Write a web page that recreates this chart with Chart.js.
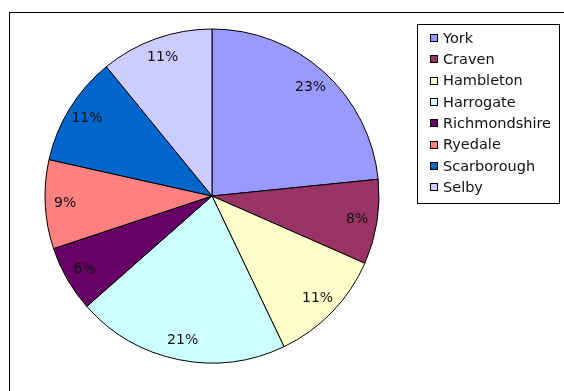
<!DOCTYPE html>
<html>
<head>
<meta charset="utf-8">
<script src="https://cdn.jsdelivr.net/npm/chart.js@4"></script>
<style>
    html, body { margin: 0; padding: 0; background: #fff; }
    #wrap { width: 564px; height: 391px; }
</style>
</head>
<body>
<div id="wrap"><canvas id="pieChart" width="564" height="391"></canvas></div>
<script>
// Share of total by district
const districts = ['York', 'Craven', 'Hambleton', 'Harrogate', 'Richmondshire', 'Ryedale', 'Scarborough', 'Selby'];
const shares = [23.4, 8.2, 11.3, 20.6, 6.4, 8.6, 10.6, 10.9];
const sliceColors = ['#9999FF', '#993366', '#FFFFCC', '#CCFFFF', '#660066', '#FF8080', '#0066CC', '#CCCCFF'];

const FONT = '"DejaVu Sans", Verdana, sans-serif';

// Outer frame around the whole chart
const framePlugin = {
    id: 'frame',
    beforeDraw(chart) {
        const ctx = chart.ctx;
        ctx.save();
        ctx.strokeStyle = '#000';
        ctx.lineWidth = 1;
        ctx.strokeRect(9.5, 12.5, 700, 500);
        ctx.restore();
    }
};

// Percentage labels inside each slice
const percentPlugin = {
    id: 'percentLabels',
    afterDatasetsDraw(chart) {
        const ctx = chart.ctx;
        const data = chart.data.datasets[0].data;
        const total = data.reduce((a, b) => a + b, 0);
        const arcs = chart.getDatasetMeta(0).data;
        ctx.save();
        ctx.font = '14px ' + FONT;
        ctx.fillStyle = '#111';
        ctx.textAlign = 'center';
        ctx.textBaseline = 'middle';
        arcs.forEach((arc, i) => {
            const mid = (arc.startAngle + arc.endAngle) / 2;
            const r = arc.outerRadius * 0.88;
            const x = arc.x + Math.cos(mid) * r;
            const y = arc.y + Math.sin(mid) * r;
            ctx.fillText(Math.round(data[i] / total * 100) + '%', x, y);
        });
        ctx.restore();
    }
};

// Boxed legend in the top right corner
const boxLegendPlugin = {
    id: 'boxLegend',
    afterDraw(chart) {
        const ctx = chart.ctx;
        const colors = chart.data.datasets[0].backgroundColor;
        ctx.save();
        ctx.strokeStyle = '#000';
        ctx.lineWidth = 1;
        ctx.fillStyle = '#fff';
        ctx.fillRect(417.5, 24.5, 142, 179);
        ctx.strokeRect(417.5, 24.5, 142, 179);
        ctx.font = '14.5px ' + FONT;
        ctx.textBaseline = 'middle';
        chart.data.labels.forEach((label, i) => {
            const y = 38 + i * 21.3;
            ctx.fillStyle = colors[i];
            ctx.fillRect(430.5, Math.round(y) - 3.5, 7, 7);
            ctx.strokeStyle = '#000';
            ctx.strokeRect(430.5, Math.round(y) - 3.5, 7, 7);
            ctx.fillStyle = '#111';
            ctx.fillText(label, 443, y + 1);
        });
        ctx.restore();
    }
};

new Chart(document.getElementById('pieChart'), {
    type: 'pie',
    data: {
        labels: districts,
        datasets: [{
            data: shares,
            backgroundColor: sliceColors,
            borderColor: '#000',
            borderWidth: 1,
            radius: 167
        }]
    },
    options: {
        responsive: false,
        animation: false,
        layout: { padding: { left: 20, right: 160, top: 10, bottom: 9 } },
        plugins: {
            legend: { display: false },
            tooltip: { enabled: false }
        }
    },
    plugins: [framePlugin, percentPlugin, boxLegendPlugin]
});
</script>
</body>
</html>
